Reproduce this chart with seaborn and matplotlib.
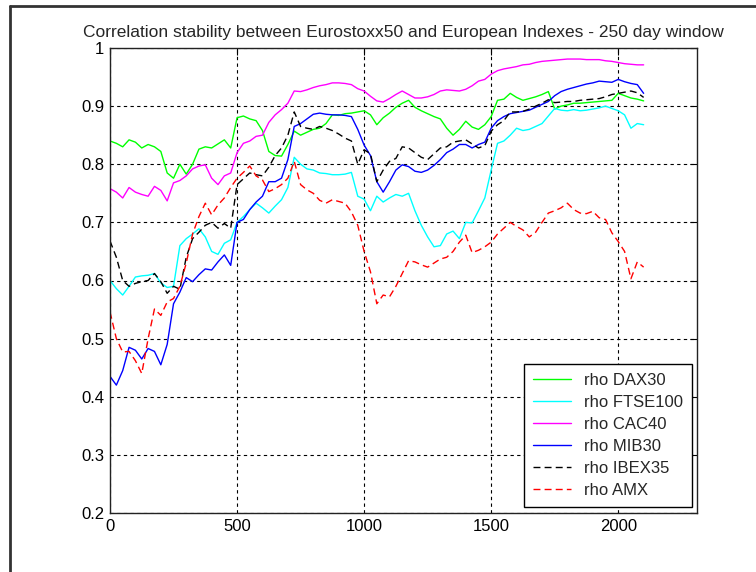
import matplotlib
matplotlib.use("Agg")
import numpy as np
import pandas as pd
import matplotlib.pyplot as plt
import seaborn as sns
from matplotlib.lines import Line2D

# ---- data ----
day = list(range(0, 2101, 25))

dax30 = [0.840, 0.836, 0.830, 0.842, 0.838, 0.828, 0.834, 0.830, 0.822, 0.785,
         0.776, 0.800, 0.783, 0.800, 0.826, 0.830, 0.828, 0.835, 0.842, 0.828,
         0.880, 0.883, 0.878, 0.875, 0.858, 0.822, 0.815, 0.814, 0.834, 0.857,
         0.850, 0.855, 0.860, 0.862, 0.870, 0.885, 0.884, 0.887, 0.888, 0.890,
         0.892, 0.885, 0.868, 0.880, 0.888, 0.898, 0.905, 0.910, 0.898, 0.892,
         0.887, 0.882, 0.878, 0.862, 0.850, 0.860, 0.874, 0.864, 0.860, 0.868,
         0.882, 0.910, 0.912, 0.922, 0.915, 0.910, 0.913, 0.916, 0.920, 0.925,
         0.895, 0.900, 0.902, 0.905, 0.905, 0.906, 0.907, 0.908, 0.909, 0.910,
         0.922, 0.918, 0.914, 0.912, 0.909]

ftse100 = [0.600, 0.586, 0.575, 0.590, 0.606, 0.608, 0.609, 0.612, 0.596, 0.588,
           0.590, 0.660, 0.672, 0.680, 0.689, 0.675, 0.650, 0.645, 0.664, 0.670,
           0.700, 0.710, 0.722, 0.733, 0.725, 0.716, 0.728, 0.739, 0.760, 0.812,
           0.800, 0.792, 0.790, 0.785, 0.784, 0.782, 0.782, 0.783, 0.786, 0.745,
           0.740, 0.720, 0.745, 0.735, 0.742, 0.748, 0.745, 0.750, 0.720, 0.695,
           0.675, 0.658, 0.660, 0.680, 0.685, 0.672, 0.700, 0.699, 0.720, 0.742,
           0.790, 0.836, 0.840, 0.850, 0.862, 0.858, 0.860, 0.865, 0.870, 0.883,
           0.896, 0.893, 0.892, 0.894, 0.892, 0.893, 0.895, 0.897, 0.900, 0.896,
           0.892, 0.885, 0.862, 0.870, 0.868]

cac40 = [0.758, 0.752, 0.742, 0.760, 0.752, 0.748, 0.745, 0.762, 0.755, 0.737,
         0.768, 0.772, 0.780, 0.792, 0.797, 0.799, 0.776, 0.765, 0.780, 0.785,
         0.820, 0.836, 0.840, 0.848, 0.850, 0.872, 0.885, 0.894, 0.905, 0.926,
         0.925, 0.928, 0.932, 0.935, 0.937, 0.940, 0.940, 0.939, 0.937, 0.930,
         0.926, 0.917, 0.909, 0.907, 0.913, 0.920, 0.926, 0.920, 0.914, 0.914,
         0.916, 0.920, 0.926, 0.928, 0.927, 0.926, 0.929, 0.935, 0.943, 0.946,
         0.955, 0.961, 0.964, 0.966, 0.968, 0.971, 0.972, 0.975, 0.977, 0.978,
         0.979, 0.980, 0.981, 0.981, 0.981, 0.980, 0.980, 0.980, 0.978, 0.977,
         0.975, 0.973, 0.972, 0.971, 0.971]

mib30 = [0.435, 0.420, 0.445, 0.485, 0.480, 0.465, 0.483, 0.478, 0.455, 0.490,
         0.560, 0.580, 0.605, 0.598, 0.610, 0.620, 0.618, 0.632, 0.644, 0.626,
         0.700, 0.705, 0.722, 0.735, 0.745, 0.770, 0.770, 0.776, 0.808, 0.865,
         0.870, 0.878, 0.886, 0.888, 0.886, 0.885, 0.885, 0.884, 0.882, 0.860,
         0.833, 0.815, 0.770, 0.752, 0.770, 0.790, 0.799, 0.796, 0.788, 0.786,
         0.790, 0.798, 0.808, 0.820, 0.826, 0.834, 0.834, 0.828, 0.834, 0.838,
         0.862, 0.875, 0.882, 0.887, 0.889, 0.891, 0.893, 0.898, 0.903, 0.908,
         0.918, 0.925, 0.929, 0.932, 0.935, 0.938, 0.940, 0.943, 0.942, 0.941,
         0.946, 0.942, 0.939, 0.937, 0.922]

ibex35 = [0.668, 0.640, 0.600, 0.590, 0.595, 0.598, 0.600, 0.612, 0.598, 0.578,
          0.590, 0.585, 0.640, 0.672, 0.683, 0.695, 0.700, 0.690, 0.698, 0.690,
          0.765, 0.775, 0.785, 0.782, 0.780, 0.795, 0.815, 0.828, 0.850, 0.890,
          0.865, 0.862, 0.860, 0.865, 0.862, 0.858, 0.852, 0.845, 0.840, 0.800,
          0.825, 0.818, 0.770, 0.790, 0.805, 0.810, 0.830, 0.828, 0.820, 0.812,
          0.808, 0.818, 0.828, 0.830, 0.838, 0.840, 0.842, 0.835, 0.828, 0.832,
          0.857, 0.868, 0.875, 0.890, 0.890, 0.891, 0.895, 0.900, 0.905, 0.911,
          0.906, 0.907, 0.908, 0.908, 0.910, 0.911, 0.912, 0.913, 0.916, 0.920,
          0.922, 0.924, 0.926, 0.923, 0.915]

amx = [0.546, 0.500, 0.477, 0.478, 0.462, 0.440, 0.500, 0.551, 0.540, 0.563,
       0.569, 0.590, 0.630, 0.680, 0.710, 0.733, 0.713, 0.730, 0.742, 0.760,
       0.776, 0.786, 0.797, 0.780, 0.773, 0.753, 0.758, 0.765, 0.776, 0.805,
       0.765, 0.756, 0.750, 0.738, 0.733, 0.739, 0.736, 0.733, 0.718, 0.695,
       0.650, 0.615, 0.560, 0.575, 0.572, 0.590, 0.612, 0.634, 0.632, 0.627,
       0.623, 0.630, 0.637, 0.640, 0.650, 0.666, 0.678, 0.648, 0.652, 0.658,
       0.666, 0.680, 0.690, 0.700, 0.693, 0.687, 0.675, 0.683, 0.700, 0.716,
       0.720, 0.725, 0.733, 0.722, 0.716, 0.715, 0.719, 0.708, 0.705, 0.682,
       0.667, 0.650, 0.603, 0.632, 0.623]

series_names = ["rho DAX30", "rho FTSE100", "rho CAC40", "rho MIB30", "rho IBEX35", "rho AMX"]
series_values = [dax30, ftse100, cac40, mib30, ibex35, amx]
colors = ["#00ff00", "#00ffff", "#ff00ff", "#0000ff", "#000000", "#ff0000"]
dashed = [False, False, False, False, True, True]

x_ticks = [0, 500, 1000, 1500, 2000]
x_tick_labels = ["0", "500", "1000", "1500", "2000"]
y_ticks = [0.2, 0.3, 0.4, 0.5, 0.6, 0.7, 0.8, 0.9, 1.0]
y_tick_labels = ["0.2", "0.3", "0.4", "0.5", "0.6", "0.7", "0.8", "0.9", "1"]
title = "Correlation stability between Eurostoxx50 and European Indexes - 250 day window"

# ---- build long table ----
frames = [pd.DataFrame({"day": day, "rho": v, "series": n}) for n, v in zip(series_names, series_values)]
df = pd.concat(frames, ignore_index=True)

sns.set_style("white")
plt.rcParams['font.family'] = ['Liberation Sans', 'DejaVu Sans']

fig = plt.figure(figsize=(7.56, 5.72), dpi=100)
fig.patch.set_facecolor("white")
ax = fig.add_axes([110 / 756, 1 - 513 / 572, 587 / 756, 465 / 572])

dash_map = {n: ((5, 3) if d else "") for n, d in zip(series_names, dashed)}
sns.lineplot(data=df, x="day", y="rho", hue="series", style="series",
             hue_order=series_names, style_order=series_names,
             palette=dict(zip(series_names, colors)), dashes=dash_map,
             linewidth=1.0, estimator=None, sort=False, legend=False, ax=ax)

ax.set_xlim(0, 2310)
ax.set_ylim(0.2, 1.0)
ax.set_xticks(x_ticks)
ax.set_xticklabels(x_tick_labels)
ax.set_yticks(y_ticks)
ax.set_yticklabels(y_tick_labels)
ax.set_xlabel("")
ax.set_ylabel("")
ax.grid(True, color="black", linestyle=(0, (3, 3)), linewidth=0.8)
ax.set_axisbelow(True)
for s in ax.spines.values():
    s.set_visible(True)
    s.set_color("#222222")
    s.set_linewidth(1.0)
ax.tick_params(direction="in", length=5, width=0.8, top=True, right=True,
               labelsize=12, colors="black", pad=4)
ax.set_title(title, fontsize=12.5, pad=8)

handles = [Line2D([0], [0], color=c, lw=1.0, linestyle=((0, (5, 3)) if d else "-"))
           for c, d in zip(colors, dashed)]
leg = ax.legend(handles, series_names, loc="lower right", bbox_to_anchor=(0.9915, 0.013),
                borderaxespad=0, fontsize=12, frameon=True, fancybox=False,
                framealpha=1, edgecolor="black", handlelength=2.3, handletextpad=0.75,
                labelspacing=0.42, borderpad=0.55)
leg.get_frame().set_linewidth(1.0)

# window frame lines of the original screenshot
fig.add_artist(Line2D([10 / 756, 10 / 756], [0, 1 - 6 / 572], transform=fig.transFigure,
                      color="#333333", lw=2))
fig.add_artist(Line2D([10 / 756, 1], [1 - 6 / 572, 1 - 6 / 572], transform=fig.transFigure,
                      color="#333333", lw=2))

fig.savefig("out.png", dpi=100, facecolor="white")
